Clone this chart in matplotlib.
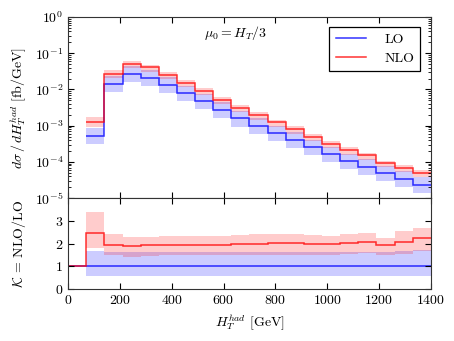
"""
LO / NLO H_T^had distribution with K-factor ratio panel.
"""
import numpy as np
import matplotlib
matplotlib.use("Agg")
import matplotlib.pyplot as plt

plt.rcParams.update({
    "font.family": "serif",
    "font.serif": ["cmr10"],
    "mathtext.fontset": "cm",
    "axes.formatter.use_mathtext": True,
    "font.size": 10,
})

# bin edges [GeV]; first bin (0-70) is empty
edges = np.arange(0, 1401, 70)

# d sigma / d H_T [fb/GeV]
lo = np.array([0, 5.16e-4, 1.41e-2, 2.66e-2, 2.11e-2, 1.32e-2, 7.80e-3, 4.68e-3,
               2.69e-3, 1.58e-3, 9.77e-4, 6.12e-4, 3.98e-4, 2.51e-4, 1.62e-4,
               1.03e-4, 7.33e-5, 4.81e-5, 3.28e-5, 2.24e-5])
nlo = np.array([0, 1.28e-3, 2.76e-2, 5.08e-2, 4.07e-2, 2.57e-2, 1.52e-2, 9.13e-3,
                5.27e-3, 3.14e-3, 1.96e-3, 1.24e-3, 8.00e-4, 5.00e-4, 3.22e-4,
                2.11e-4, 1.52e-4, 9.38e-5, 6.82e-5, 5.00e-5])

# scale-variation envelopes, normalised to LO central
lo_band_dn = np.array([1, 0.60, 0.60, 0.60, 0.60, 0.60, 0.60, 0.60, 0.60, 0.60,
                       0.60, 0.60, 0.60, 0.60, 0.60, 0.60, 0.60, 0.60, 0.60, 0.60])
lo_band_up = np.array([1, 1.67, 1.64, 1.64, 1.64, 1.64, 1.64, 1.64, 1.64, 1.64,
                       1.64, 1.64, 1.64, 1.64, 1.64, 1.64, 1.64, 1.64, 1.67, 1.70])
nlo_band_dn = np.array([1, 1.82, 1.48, 1.43, 1.46, 1.48, 1.49, 1.49, 1.50, 1.50,
                        1.51, 1.52, 1.52, 1.52, 1.52, 1.55, 1.58, 1.50, 1.56, 1.67])
nlo_band_up = np.array([1, 3.37, 2.41, 2.29, 2.30, 2.32, 2.35, 2.35, 2.35, 2.38,
                        2.41, 2.42, 2.42, 2.38, 2.35, 2.44, 2.47, 2.26, 2.54, 2.69])

BLUE, RED = "#0000ff", "#ff0000"


def main():
    fig = plt.figure(figsize=(4.54, 3.41), dpi=100)
    ax = fig.add_axes([0.150, 0.419, 0.799, 0.531])
    rx = fig.add_axes([0.150, 0.152, 0.799, 0.267], sharex=ax)

    # --- top panel: distributions
    e = edges[1:]
    ax.stairs(lo[1:] * lo_band_up[1:], e, baseline=lo[1:] * lo_band_dn[1:],
              fill=True, color=BLUE, alpha=0.2, lw=0)
    ax.stairs(lo[1:] * nlo_band_up[1:], e, baseline=lo[1:] * nlo_band_dn[1:],
              fill=True, color=RED, alpha=0.2, lw=0)
    ax.stairs(lo[1:], e, color=BLUE, lw=1.1, alpha=0.8, baseline=None, label="LO")
    ax.stairs(nlo[1:], e, color=RED, lw=1.1, alpha=0.8, baseline=None, label="NLO")
    ax.set_yscale("log")
    ax.set_ylim(1e-5, 1)
    ax.set_xlim(0, 1400)
    ax.set_ylabel(r"$d\sigma\,/\,dH_T^{had}$ [fb/GeV]")
    ax.text(0.462, 0.91, r"$\mu_0 = H_T/3$", transform=ax.transAxes,
            ha="center", va="center")
    leg = ax.legend(loc="upper right", fancybox=False, framealpha=1,
                    edgecolor="black", handlelength=2.2, borderpad=0.45,
                    labelspacing=0.45, handletextpad=1.3,
                    bbox_to_anchor=(0.99, 0.985))
    leg.get_frame().set_linewidth(0.9)
    ax.tick_params(labelbottom=False)

    # --- bottom panel: K factor
    k = np.where(lo > 0, nlo / np.where(lo > 0, lo, 1), 1.0)
    rx.stairs(lo_band_up, edges, baseline=lo_band_dn, fill=True,
              color=BLUE, alpha=0.2, lw=0)
    rx.stairs(nlo_band_up, edges, baseline=nlo_band_dn, fill=True,
              color=RED, alpha=0.2, lw=0)
    rx.stairs(np.ones_like(k), edges, color=BLUE, lw=1.1, alpha=0.8, baseline=None)
    rx.stairs(k, edges, color=RED, lw=1.1, alpha=0.8, baseline=None)
    rx.set_ylim(0, 4)
    rx.set_yticks([0, 1, 2, 3])
    rx.set_xticks(range(0, 1401, 200))
    rx.set_ylabel(r"$\mathcal{K}$ = NLO/LO")
    rx.set_xlabel(r"$H_T^{had}$ [GeV]")

    for a in (ax, rx):
        a.tick_params(which="both", direction="in", top=True, right=True)
        a.tick_params(which="major", length=4)
        a.tick_params(which="minor", length=2)
        for s in a.spines.values():
            s.set_color("#333333")
    ax.yaxis.set_label_coords(-0.11, 0.5)
    rx.yaxis.set_label_coords(-0.11, 0.5)

    fig.savefig("out.png", dpi=100)
    plt.close(fig)


if __name__ == "__main__":
    main()
